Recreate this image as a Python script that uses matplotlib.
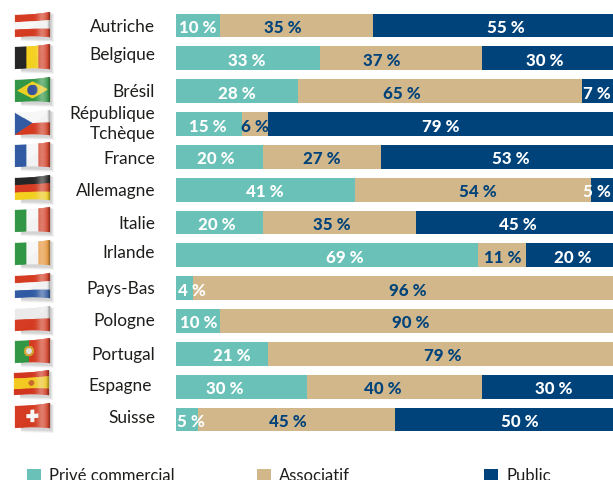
import numpy as np
import matplotlib
matplotlib.use('Agg')
import matplotlib.pyplot as plt
from matplotlib.patches import Rectangle, Polygon

pays = ['Autriche', 'Belgique', 'Brésil', 'République\nTchèque', 'France', 'Allemagne', 'Italie',
        'Irlande', 'Pays-Bas', 'Pologne', 'Portugal', 'Espagne', 'Suisse']
prive = [10, 33, 28, 15, 20, 41, 20, 69, 4, 10, 21, 30, 5]
associatif = [35, 37, 65, 6, 27, 54, 35, 11, 96, 90, 79, 40, 45]
public = [55, 30, 7, 79, 53, 5, 45, 20, 0, 0, 0, 30, 50]
series_names = ['Privé commercial', 'Associatif', 'Public']

# where each percentage sits along its bar, in percent units
prive_pos = [5, 16.2, 14, 7.3, 9, 20.4, 9.4, 38.7, 3.7, 5.3, 12.8, 11.2, 3.4]
associatif_pos = [24.5, 47.1, 51.7, 18, 33.4, 69, 35.7, 74.8, 53, 53.8, 61, 47.4, 25.6]
public_pos = [75.5, 84.4, 96.3, 60.6, 76.6, 96.3, 78.2, 90.8, 0, 0, 0, 86.5, 78.7]

TEAL = '#69c1b7'
TAN = '#d2b78a'
NAVY = '#00437b'
INK = '#1d1d1b'
W, H = 613, 481

# label centres and flag centres, in pixels from the top
label_y = [26, 54, 91, 123, 158, 190, 223, 252, 288, 320, 354, 385, 417]
flag_y = [26, 58, 91, 124, 156, 189, 221, 254, 287, 320, 352, 384, 417]


def stripes(colors, vertical=False, weights=None):
    weights = weights or [1] * len(colors)
    edges = np.cumsum(weights) / sum(weights)
    rgb = np.array([matplotlib.colors.to_rgb(c) for c in colors])

    def paint(u, v):
        t = u if vertical else v
        return rgb[np.clip(np.searchsorted(edges, t), 0, len(colors) - 1)]
    return paint


def bresil(u, v):
    img = np.ones(u.shape + (3,)) * matplotlib.colors.to_rgb('#2f9b45')
    img[np.abs(u - .5) / .44 + np.abs(v - .5) / .40 < 1] = matplotlib.colors.to_rgb('#f4d520')
    img[np.hypot((u - .5) * 1.6, v - .5) < .24] = matplotlib.colors.to_rgb('#34509c')
    return img


def tcheque(u, v):
    img = np.ones(u.shape + (3,))
    img[v > .5] = matplotlib.colors.to_rgb('#dc3a1e')
    img[u < .5 * (1 - np.abs(2 * v - 1))] = matplotlib.colors.to_rgb('#2f5ca8')
    return img


def portugal(u, v):
    img = np.ones(u.shape + (3,)) * matplotlib.colors.to_rgb('#dc3a1e')
    img[u < .4] = matplotlib.colors.to_rgb('#2f9b45')
    r = np.hypot((u - .4) * 1.6, v - .5)
    img[r < .24] = matplotlib.colors.to_rgb('#d6a92c')
    img[r < .14] = matplotlib.colors.to_rgb('#e8e8e8')
    return img


def espagne(u, v):
    img = stripes(['#d8341c', '#fbcf1e', '#d8341c'], weights=[1, 2, 1])(u, v)
    img[np.hypot((u - .5) * 1.6, v - .5) < .13] = matplotlib.colors.to_rgb('#cf6a28')
    return img


def suisse(u, v):
    img = np.ones(u.shape + (3,)) * matplotlib.colors.to_rgb('#dc3a1e')
    du, dv = np.abs(u - .5) * 1.6, np.abs(v - .5)
    img[((du < .09) & (dv < .28)) | ((du < .28) & (dv < .09))] = 1
    return img


flags = [
    stripes(['#dc3a1e', '#ffffff', '#dc3a1e']),
    stripes(['#222222', '#fdd61c', '#dc3a1e'], vertical=True),
    bresil,
    tcheque,
    stripes(['#2f5ca8', '#ffffff', '#dc3a1e'], vertical=True),
    stripes(['#222222', '#dc3a1e', '#fdd61c']),
    stripes(['#2f9b45', '#ffffff', '#dc3a1e'], vertical=True),
    stripes(['#2f9b45', '#ffffff', '#f29a36'], vertical=True),
    stripes(['#dc3a1e', '#ffffff', '#2f5ca8']),
    stripes(['#f2f2f2', '#dc3a1e']),
    portugal,
    espagne,
    suisse,
]


def draw_flag(ax, paint, cy, x0=15.0):
    u, v = np.meshgrid(np.linspace(0, 1, 71), np.linspace(0, 1, 53))
    top = cy - 10 - 3 * u ** 2
    bottom = cy + 12 - 1.5 * np.sin(np.pi * u * .8) + u
    x = x0 + 35 * u
    y = top + (bottom - top) * v

    # soft shadow under the ribbon
    for off, a in [(4, .07), (3, .09), (2, .11)]:
        ax.add_patch(Polygon([(x0 + 35, cy - 12), (x0 + 35 + off, cy - 11),
                              (x0 + 35 + off, cy + 13 + off), (x0 + 6, cy + 12 + off),
                              (x0 + 6, cy + 10)],
                             closed=True, fc='#555555', ec='none', alpha=a, zorder=1))

    um = (u[:-1, :-1] + u[1:, 1:]) / 2
    vm = (v[:-1, :-1] + v[1:, 1:]) / 2
    img = paint(um, vm).astype(float)

    # sheen towards the right side, darker fold at the very edge
    sheen = np.exp(-((um - .78) / .14) ** 2)[..., None]
    img = img + (1 - img) * sheen * .35
    fold = np.clip((um - .92) / .08, 0, 1)[..., None]
    img = img * (1 - fold * .35) * .97
    mesh = ax.pcolormesh(x, y, img, shading='flat', zorder=2, antialiased=True,
                         edgecolors='face', linewidth=.15)
    mesh.set_snap(False)


fig = plt.figure(figsize=(W / 100, H / 100), dpi=100)
fig.patch.set_facecolor('white')

# bars
row_step = 32.83
y_top, y_bottom = 26.5 - row_step / 2, 420.5 + row_step / 2
ax = fig.add_axes([176 / W, 1 - y_bottom / H, 1 - 176 / W, (y_bottom - y_top) / H])
rows = np.arange(len(pays))
prive_arr, asso_arr, public_arr = np.array(prive), np.array(associatif), np.array(public)
ax.barh(rows, prive_arr, height=.73, color=TEAL)
ax.barh(rows, asso_arr, left=prive_arr, height=.73, color=TAN)
ax.barh(rows, public_arr, left=prive_arr + asso_arr, height=.73, color=NAVY)
ax.set_xlim(0, 100)
ax.set_ylim(len(pays) - .5, -.5)
ax.axis('off')

val_font = dict(family='Lato', weight='black', fontsize=12.2, ha='center', va='center_baseline')
for i in rows:
    for val, pos, col in [(prive[i], prive_pos[i], 'white'),
                          (associatif[i], associatif_pos[i], NAVY),
                          (public[i], public_pos[i], 'white')]:
        if val > 0:
            ax.text(pos, i, f'{val} %', color=col, **val_font)

# pixel overlay for flags, country names and the key
over = fig.add_axes([0, 0, 1, 1], zorder=3)
over.set_xlim(0, W)
over.set_ylim(H, 0)
over.axis('off')
over.patch.set_alpha(0)

for i, name in enumerate(pays):
    draw_flag(over, flags[i], flag_y[i], x0=14.0 if name == 'Espagne' else 15.0)
    right = 152 if name == 'Espagne' else 155
    over.text(right, label_y[i] + 1, name, family='Lato', fontsize=12.4, color=INK,
              ha='right', va='center', linespacing=1.35, multialignment='right')

key_x = [27, 257, 484]
key_text_x = [49, 279, 507]
for name, kx, tx, col in zip(series_names, key_x, key_text_x, [TEAL, TAN, NAVY]):
    over.add_patch(Rectangle((kx, 470), 14, 14, fc=col, ec='none'))
    over.text(tx, 481, name, family='Lato', fontsize=12.0, color=INK, ha='left', va='baseline')

fig.savefig('out.png', dpi=100)
